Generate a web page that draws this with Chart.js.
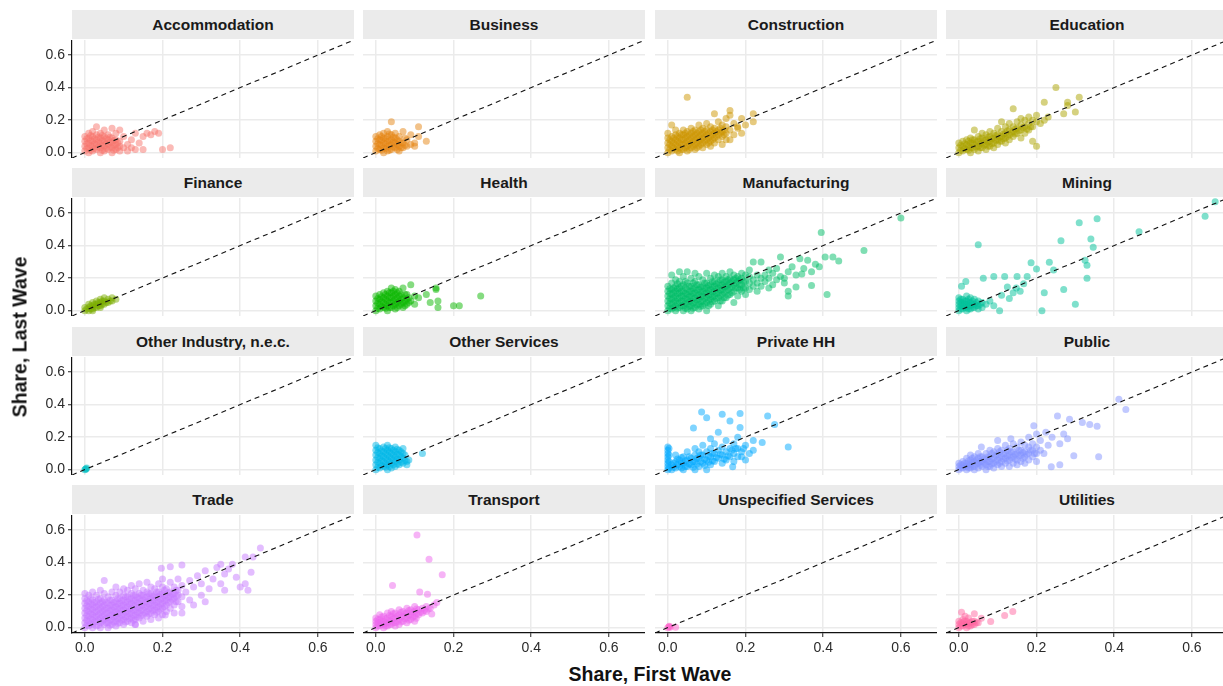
<!DOCTYPE html>
<html>
<head>
<meta charset="utf-8">
<script src="https://cdn.jsdelivr.net/npm/chart.js@4.4.1/dist/chart.umd.min.js"></script>
<style>
  body { margin: 0; background: #fff; width: 1223px; height: 686px; overflow: hidden; position: relative; font-family: "Liberation Sans", Arial, sans-serif; }
  canvas { position: absolute; }
  .strip { position: absolute; background: #ebebeb; color: #1a1a1a; font-weight: bold; font-size: 15.5px; text-align: center; }
  .title { position: absolute; font-weight: bold; font-size: 19.5px; color: #111; white-space: nowrap; }
</style>
</head>
<body>
<script>
// facet names and colours (ggplot hue palette)
const industries = ["Accommodation", "Business", "Construction", "Education",
  "Finance", "Health", "Manufacturing", "Mining",
  "Other Industry, n.e.c.", "Other Services", "Private HH", "Public",
  "Trade", "Transport", "Unspecified Services", "Utilities"];
const colors = ["#F8766D", "#E68613", "#CD9600", "#ABA300", "#7CAE00", "#0CB702", "#00BE67", "#00C19A",
  "#00BFC4", "#00B8E7", "#00A9FF", "#8494FF", "#C77CFF", "#ED68ED", "#FF61CC", "#FF68A1"];
const tickValues = [0, 0.2, 0.4, 0.6];
const tickLabels = ["0.0", "0.2", "0.4", "0.6"];
const axisRange = [-0.033, 0.693];

// [share first wave, share last wave]
const accommodation = [[0,0.01],[0,0.04],[0,0.07],[0,0.10],[0.01,0],[0.01,0.03],[0.01,0.06],[0.01,0.09],[0.01,0.12],
  [0.02,0.01],[0.02,0.04],[0.02,0.07],[0.02,0.10],[0.02,0.13],[0.03,0.02],[0.03,0.05],[0.03,0.08],[0.03,0.11],[0.03,0.16],
  [0.04,0],[0.04,0.03],[0.04,0.06],[0.04,0.09],[0.04,0.12],[0.05,0.01],[0.05,0.04],[0.05,0.07],[0.05,0.10],[0.05,0.14],
  [0.06,0.02],[0.06,0.05],[0.06,0.08],[0.06,0.11],[0.07,0],[0.07,0.03],[0.07,0.06],[0.07,0.09],[0.07,0.15],[0.08,0.02],
  [0.08,0.05],[0.08,0.08],[0.08,0.12],[0.09,0.01],[0.09,0.04],[0.09,0.07],[0.09,0.14],[0.10,0.03],[0.10,0.10],[0.11,0.05],
  [0.11,0.01],[0.12,0.08],[0.12,0.03],[0.13,0.12],[0.14,0.06],[0.15,0.02],[0.15,0.10],[0.16,0.12],[0.17,0.11],[0.18,0.13],
  [0.19,0.12],[0.20,0.02],[0.22,0.03],[0.13,0.02],
  [0.005,0.025],[0.005,0.055],[0.005,0.085],[0.015,0.015],[0.015,0.045],[0.015,0.075],[0.015,0.105],[0.025,0.025],[0.025,0.055],
  [0.025,0.085],[0.035,0.035],[0.035,0.065],[0.035,0.095],[0.045,0.015],[0.045,0.045],[0.045,0.075],[0.045,0.105],[0.055,0.025],
  [0.055,0.055],[0.055,0.085],[0.065,0.035],[0.065,0.065],[0.065,0.095],[0.075,0.015],[0.075,0.045],[0.075,0.075],[0.085,0.03],
  [0.085,0.06]];
const business = [[0,0.01],[0,0.04],[0,0.07],[0,0.10],[0.01,0.02],[0.01,0.05],[0.01,0.08],[0.01,0.11],[0.02,0],[0.02,0.03],
  [0.02,0.06],[0.02,0.09],[0.02,0.12],[0.03,0.01],[0.03,0.04],[0.03,0.07],[0.03,0.10],[0.03,0.13],[0.04,0.02],[0.04,0.05],
  [0.04,0.08],[0.04,0.11],[0.04,0.19],[0.05,0.03],[0.05,0.06],[0.05,0.09],[0.05,0.12],[0.06,0.01],[0.06,0.04],[0.06,0.07],
  [0.06,0.10],[0.07,0.03],[0.07,0.06],[0.07,0.13],[0.08,0.04],[0.08,0.08],[0.09,0.05],[0.10,0.04],[0.11,0.10],[0.11,0.16],
  [0.13,0.07],[0.09,0.11],[0.10,0.06],
  [0.005,0.025],[0.005,0.055],[0.005,0.085],[0.015,0.015],[0.015,0.045],[0.015,0.075],[0.015,0.10],[0.025,0.025],[0.025,0.055],
  [0.025,0.085],[0.035,0.015],[0.035,0.045],[0.035,0.075],[0.035,0.115],[0.045,0.035],[0.045,0.065],[0.045,0.095],[0.055,0.02],
  [0.055,0.05],[0.055,0.08],[0.065,0.03],[0.065,0.06],[0.075,0.045],[0.075,0.09]];
const construction = [[0,0],[0,0.03],[0,0.06],[0,0.09],[0,0.12],[0.01,0.01],[0.01,0.04],[0.01,0.07],[0.01,0.10],[0.01,0.17],
  [0.02,0.02],[0.02,0.05],[0.02,0.08],[0.02,0.11],[0.02,0.14],[0.03,0],[0.03,0.03],[0.03,0.06],[0.03,0.09],[0.03,0.12],
  [0.04,0.02],[0.04,0.05],[0.04,0.08],[0.04,0.11],[0.04,0.14],[0.05,0.01],[0.05,0.04],[0.05,0.07],[0.05,0.10],[0.05,0.13],
  [0.05,0.34],[0.06,0.03],[0.06,0.06],[0.06,0.09],[0.06,0.12],[0.06,0.15],[0.07,0.02],[0.07,0.05],[0.07,0.08],[0.07,0.11],
  [0.07,0.14],[0.08,0.04],[0.08,0.07],[0.08,0.10],[0.08,0.13],[0.08,0.17],[0.09,0.03],[0.09,0.06],[0.09,0.09],[0.09,0.12],
  [0.09,0.15],[0.10,0.05],[0.10,0.08],[0.10,0.11],[0.10,0.14],[0.10,0.18],[0.11,0.04],[0.11,0.07],[0.11,0.10],[0.11,0.13],
  [0.11,0.16],[0.12,0.06],[0.12,0.09],[0.12,0.12],[0.12,0.15],[0.12,0.24],[0.13,0.08],[0.13,0.11],[0.13,0.14],[0.13,0.19],
  [0.14,0.05],[0.14,0.10],[0.14,0.13],[0.14,0.17],[0.15,0.08],[0.15,0.12],[0.15,0.16],[0.15,0.21],[0.16,0.26],[0.16,0.23],
  [0.16,0.08],[0.16,0.14],[0.17,0.11],[0.17,0.18],[0.18,0.15],[0.18,0.16],[0.19,0.21],[0.19,0.12],[0.20,0.17],[0.22,0.24],
  [0.22,0.19],
  [0.005,0.02],[0.005,0.05],[0.005,0.08],[0.015,0.03],[0.015,0.06],[0.015,0.09],[0.025,0.01],[0.025,0.04],[0.025,0.07],[0.025,0.10],
  [0.035,0.02],[0.035,0.05],[0.035,0.08],[0.035,0.11],[0.045,0.03],[0.045,0.06],[0.045,0.09],[0.045,0.12],[0.055,0.02],[0.055,0.05],
  [0.055,0.08],[0.055,0.11],[0.065,0.04],[0.065,0.07],[0.065,0.10],[0.065,0.13],[0.075,0.03],[0.075,0.06],[0.075,0.09],[0.075,0.12],
  [0.085,0.05],[0.085,0.08],[0.085,0.11],[0.085,0.14],[0.095,0.07],[0.095,0.10],[0.095,0.13],[0.105,0.06],[0.105,0.09],[0.105,0.12],
  [0.115,0.08],[0.115,0.11],[0.115,0.14],[0.125,0.10],[0.125,0.13],[0.135,0.12],[0.135,0.15],[0.145,0.11],[0.145,0.14]];
const education = [[0,0],[0,0.03],[0,0.06],[0.01,0.01],[0.01,0.04],[0.01,0.07],[0.02,0.02],[0.02,0.05],[0.02,0.08],[0.03,0],
  [0.03,0.03],[0.03,0.06],[0.03,0.09],[0.04,0.02],[0.04,0.05],[0.04,0.08],[0.04,0.14],[0.05,0.01],[0.05,0.04],[0.05,0.07],
  [0.05,0.10],[0.06,0.03],[0.06,0.06],[0.06,0.09],[0.06,0.12],[0.07,0.02],[0.07,0.05],[0.07,0.08],[0.07,0.11],[0.08,0.04],
  [0.08,0.07],[0.08,0.10],[0.08,0.13],[0.09,0.03],[0.09,0.06],[0.09,0.09],[0.09,0.12],[0.10,0.05],[0.10,0.08],[0.10,0.11],
  [0.10,0.15],[0.11,0.07],[0.11,0.10],[0.11,0.13],[0.11,0.19],[0.12,0.06],[0.12,0.09],[0.12,0.12],[0.12,0.16],[0.13,0.08],
  [0.13,0.11],[0.13,0.14],[0.13,0.18],[0.14,0.10],[0.14,0.13],[0.14,0.16],[0.14,0.27],[0.15,0.12],[0.15,0.15],[0.15,0.19],
  [0.16,0.09],[0.16,0.14],[0.16,0.17],[0.16,0.21],[0.17,0.12],[0.17,0.16],[0.17,0.20],[0.18,0.14],[0.18,0.18],[0.18,0.22],
  [0.19,0.07],[0.19,0.16],[0.19,0.20],[0.20,0.04],[0.20,0.19],[0.20,0.23],[0.21,0.18],[0.22,0.31],[0.22,0.20],[0.23,0.22],
  [0.25,0.40],[0.27,0.24],[0.28,0.29],[0.28,0.31],[0.30,0.25],[0.31,0.34],
  [0.005,0.015],[0.005,0.045],[0.015,0.025],[0.015,0.055],[0.025,0.015],[0.025,0.04],[0.025,0.07],[0.035,0.03],[0.035,0.06],
  [0.035,0.08],[0.045,0.035],[0.045,0.065],[0.055,0.03],[0.055,0.055],[0.055,0.085],[0.065,0.045],[0.065,0.075],[0.075,0.04],
  [0.075,0.065],[0.075,0.095],[0.085,0.055],[0.085,0.085],[0.095,0.075],[0.095,0.105],[0.105,0.07],[0.105,0.095],[0.115,0.085],
  [0.115,0.115],[0.125,0.10],[0.125,0.135],[0.135,0.12],[0.145,0.115],[0.145,0.145],[0.155,0.135],[0.165,0.155],[0.175,0.145],
  [0.185,0.16]];
const finance = [[0,0],[0,0.02],[0.01,0],[0.01,0.02],[0.01,0.04],[0.02,0.01],[0.02,0.03],[0.02,0.05],[0.03,0.02],[0.03,0.04],
  [0.03,0.06],[0.04,0.03],[0.04,0.05],[0.04,0.07],[0.05,0.04],[0.05,0.06],[0.05,0.08],[0.06,0.05],[0.06,0.07],[0.07,0.06],
  [0.07,0.08],[0.08,0.07],[0.02,0],[0.04,0.02],
  [0.005,0.01],[0.015,0.01],[0.015,0.03],[0.025,0.02],[0.025,0.04],[0.035,0.03],[0.035,0.05],[0.045,0.04],[0.045,0.06],
  [0.055,0.05],[0.065,0.06]];
const health = [[0,0],[0,0.03],[0,0.06],[0,0.09],[0.01,0.01],[0.01,0.04],[0.01,0.07],[0.01,0.10],[0.02,0.02],[0.02,0.05],
  [0.02,0.08],[0.02,0.11],[0.03,0],[0.03,0.03],[0.03,0.06],[0.03,0.09],[0.03,0.12],[0.04,0.02],[0.04,0.05],[0.04,0.08],
  [0.04,0.11],[0.04,0.14],[0.05,0.01],[0.05,0.04],[0.05,0.07],[0.05,0.10],[0.05,0.13],[0.06,0.03],[0.06,0.06],[0.06,0.09],
  [0.06,0.12],[0.07,0.02],[0.07,0.05],[0.07,0.08],[0.07,0.14],[0.08,0.04],[0.08,0.07],[0.08,0.10],[0.09,0.06],[0.09,0.16],
  [0.10,0.09],[0.10,0.04],[0.11,0.08],[0.13,0.10],[0.14,0.05],[0.155,0.14],[0.155,0.13],[0.16,0.06],[0.16,0.02],[0.20,0.03],
  [0.215,0.03],[0.27,0.09],
  [0.005,0.015],[0.005,0.045],[0.005,0.075],[0.015,0.025],[0.015,0.055],[0.015,0.085],[0.025,0.015],[0.025,0.04],[0.025,0.07],
  [0.025,0.10],[0.035,0.02],[0.035,0.05],[0.035,0.08],[0.035,0.11],[0.045,0.03],[0.045,0.06],[0.045,0.09],[0.045,0.12],
  [0.055,0.02],[0.055,0.05],[0.055,0.08],[0.055,0.11],[0.065,0.04],[0.065,0.07],[0.065,0.10],[0.075,0.03],[0.075,0.06],
  [0.075,0.10],[0.085,0.05],[0.085,0.08]];
const manufacturing = [[0,0],[0,0.03],[0,0.06],[0,0.09],[0,0.12],[0,0.15],[0.01,0.01],[0.01,0.04],[0.01,0.07],[0.01,0.10],
  [0.01,0.13],[0.01,0.17],[0.01,0.22],[0.02,0],[0.02,0.03],[0.02,0.06],[0.02,0.09],[0.02,0.12],[0.02,0.15],[0.02,0.19],
  [0.03,0.02],[0.03,0.05],[0.03,0.08],[0.03,0.11],[0.03,0.14],[0.03,0.18],[0.03,0.24],[0.04,0],[0.04,0.03],[0.04,0.06],
  [0.04,0.09],[0.04,0.12],[0.04,0.16],[0.04,0.21],[0.05,0.01],[0.05,0.04],[0.05,0.07],[0.05,0.10],[0.05,0.13],[0.05,0.17],
  [0.05,0.24],[0.06,0],[0.06,0.03],[0.06,0.06],[0.06,0.09],[0.06,0.12],[0.06,0.15],[0.06,0.20],[0.07,0.02],[0.07,0.05],
  [0.07,0.08],[0.07,0.11],[0.07,0.14],[0.07,0.18],[0.07,0.23],[0.08,0.01],[0.08,0.04],[0.08,0.07],[0.08,0.10],[0.08,0.13],
  [0.08,0.16],[0.08,0.21],[0.09,0.03],[0.09,0.06],[0.09,0.09],[0.09,0.12],[0.09,0.15],[0.09,0.19],[0.10,0],[0.10,0.05],
  [0.10,0.08],[0.10,0.11],[0.10,0.14],[0.10,0.17],[0.10,0.23],[0.11,0.04],[0.11,0.07],[0.11,0.10],[0.11,0.13],[0.11,0.16],
  [0.11,0.20],[0.12,0.06],[0.12,0.09],[0.12,0.12],[0.12,0.15],[0.12,0.18],[0.12,0.22],[0.13,0.03],[0.13,0.08],[0.13,0.11],
  [0.13,0.14],[0.13,0.17],[0.13,0.21],[0.14,0.06],[0.14,0.10],[0.14,0.13],[0.14,0.16],[0.14,0.19],[0.14,0.23],[0.15,0.08],
  [0.15,0.12],[0.15,0.15],[0.15,0.18],[0.15,0.21],[0.16,0.10],[0.16,0.14],[0.16,0.17],[0.16,0.20],[0.16,0.24],[0.17,0.05],
  [0.17,0.12],[0.17,0.16],[0.17,0.19],[0.17,0.22],[0.18,0.09],[0.18,0.14],[0.18,0.18],[0.18,0.21],[0.19,0.12],[0.19,0.16],
  [0.19,0.20],[0.19,0.23],[0.20,0.10],[0.20,0.14],[0.20,0.18],[0.20,0.22],[0.21,0.13],[0.21,0.17],[0.21,0.21],[0.21,0.25],
  [0.22,0.15],[0.22,0.19],[0.22,0.30],[0.23,0.12],[0.23,0.17],[0.23,0.22],[0.24,0.15],[0.24,0.20],[0.24,0.30],[0.25,0.18],
  [0.25,0.22],[0.26,0.14],[0.26,0.20],[0.26,0.25],[0.27,0.16],[0.27,0.23],[0.28,0.19],[0.28,0.26],[0.29,0.21],[0.29,0.33],
  [0.30,0.20],[0.30,0.17],[0.31,0.12],[0.31,0.09],[0.31,0.24],[0.32,0.27],[0.33,0.145],[0.33,0.22],[0.34,0.32],[0.345,0.225],
  [0.35,0.26],[0.36,0.31],[0.37,0.155],[0.37,0.24],[0.38,0.285],[0.39,0.27],[0.395,0.48],[0.405,0.33],[0.41,0.10],[0.425,0.33],
  [0.44,0.305],[0.505,0.37],[0.60,0.57],
  [0.005,0.015],[0.005,0.045],[0.005,0.075],[0.005,0.105],[0.005,0.135],[0.015,0.02],[0.015,0.05],[0.015,0.08],[0.015,0.11],
  [0.015,0.14],[0.025,0.015],[0.025,0.045],[0.025,0.075],[0.025,0.105],[0.025,0.135],[0.025,0.165],[0.035,0.03],[0.035,0.06],
  [0.035,0.09],[0.035,0.12],[0.035,0.15],[0.045,0.015],[0.045,0.045],[0.045,0.075],[0.045,0.105],[0.045,0.14],[0.045,0.18],
  [0.055,0.025],[0.055,0.055],[0.055,0.085],[0.055,0.115],[0.055,0.15],[0.065,0.015],[0.065,0.045],[0.065,0.075],[0.065,0.105],
  [0.065,0.135],[0.065,0.17],[0.075,0.035],[0.075,0.065],[0.075,0.095],[0.075,0.125],[0.075,0.16],[0.085,0.025],[0.085,0.055],
  [0.085,0.085],[0.085,0.115],[0.085,0.145],[0.095,0.04],[0.095,0.075],[0.095,0.105],[0.095,0.135],[0.095,0.17],[0.105,0.03],
  [0.105,0.065],[0.105,0.095],[0.105,0.125],[0.105,0.155],[0.115,0.055],[0.115,0.085],[0.115,0.115],[0.115,0.145],[0.115,0.18],
  [0.125,0.075],[0.125,0.105],[0.125,0.135],[0.125,0.165],[0.135,0.06],[0.135,0.095],[0.135,0.125],[0.135,0.155],[0.135,0.19],
  [0.145,0.08],[0.145,0.115],[0.145,0.145],[0.145,0.175],[0.155,0.095],[0.155,0.13],[0.155,0.16],[0.155,0.19],[0.165,0.11],
  [0.165,0.145],[0.165,0.18],[0.175,0.14],[0.175,0.17],[0.175,0.20],[0.185,0.13],[0.185,0.16],[0.185,0.19],[0.195,0.14],
  [0.195,0.18]];
const mining = [[0,0],[0,0.02],[0,0.04],[0,0.06],[0,0.08],[0.01,0.01],[0.01,0.03],[0.01,0.05],[0.01,0.07],[0.02,0],[0.02,0.02],
  [0.02,0.04],[0.02,0.06],[0.02,0.09],[0.03,0.01],[0.03,0.03],[0.03,0.05],[0.03,0.08],[0.04,0.02],[0.04,0.04],[0.04,0.07],
  [0.05,0.01],[0.05,0.03],[0.05,0.06],[0.06,0.02],[0.06,0.05],[0.07,0.04],[0.08,0.06],[0.09,0.03],[0.007,0.15],[0.018,0.18],
  [0.05,0.405],[0.063,0.20],[0.09,0.21],[0.105,0],[0.11,0.095],[0.118,0.21],[0.125,0.145],[0.13,0.075],[0.14,0.11],[0.148,0.14],
  [0.15,0.21],[0.158,0.12],[0.167,0.166],[0.176,0.21],[0.186,0.295],[0.20,0.256],[0.214,0],[0.22,0.11],[0.233,0.298],[0.244,0.25],
  [0.263,0.43],[0.27,0.13],[0.30,0.04],[0.31,0.54],[0.325,0.31],[0.33,0.28],[0.33,0.20],[0.34,0.44],[0.346,0.39],[0.356,0.565],
  [0.464,0.485],[0.634,0.58],[0.66,0.67],
  [0.005,0.01],[0.005,0.03],[0.005,0.05],[0.005,0.07],[0.015,0.02],[0.015,0.04],[0.015,0.06],[0.025,0.01],[0.025,0.03],
  [0.025,0.05],[0.025,0.07],[0.035,0.02],[0.035,0.04],[0.035,0.06],[0.045,0.03],[0.045,0.05],[0.055,0.04]];
const otherIndustry = [[0,0],[0.003,0.005],[0.005,0.01],[0.002,0.003]];
const otherServices = [[0,0],[0,0.03],[0,0.06],[0,0.09],[0,0.12],[0,0.15],[0.01,0.01],[0.01,0.04],[0.01,0.07],[0.01,0.10],
  [0.01,0.13],[0.02,0.02],[0.02,0.05],[0.02,0.08],[0.02,0.11],[0.02,0.14],[0.03,0],[0.03,0.03],[0.03,0.06],[0.03,0.09],
  [0.03,0.12],[0.03,0.15],[0.04,0.01],[0.04,0.04],[0.04,0.07],[0.04,0.10],[0.04,0.13],[0.05,0.02],[0.05,0.05],[0.05,0.08],
  [0.05,0.11],[0.05,0.14],[0.06,0.03],[0.06,0.06],[0.06,0.09],[0.06,0.12],[0.07,0.04],[0.07,0.07],[0.07,0.10],[0.07,0.13],
  [0.08,0.05],[0.08,0.03],[0.085,0.06],[0.12,0.10],
  [0.005,0.015],[0.005,0.045],[0.005,0.075],[0.005,0.105],[0.005,0.135],[0.015,0.025],[0.015,0.055],[0.015,0.085],[0.015,0.115],
  [0.025,0.015],[0.025,0.04],[0.025,0.07],[0.025,0.10],[0.025,0.13],[0.035,0.02],[0.035,0.05],[0.035,0.08],[0.035,0.11],
  [0.035,0.135],[0.045,0.03],[0.045,0.06],[0.045,0.09],[0.045,0.12],[0.055,0.035],[0.055,0.065],[0.055,0.095],[0.055,0.125],
  [0.065,0.045],[0.065,0.08],[0.065,0.11],[0.075,0.055],[0.075,0.09]];
const privateHH = [[0,0],[0,0.02],[0,0.04],[0,0.06],[0,0.08],[0,0.10],[0,0.12],[0,0.14],[0.003,0.01],[0.003,0.05],[0.003,0.09],
  [0.003,0.13],[0.01,0],[0.01,0.03],[0.02,0.01],[0.02,0.05],[0.02,0.09],[0.03,0.02],[0.03,0.06],[0.04,0],[0.04,0.04],[0.04,0.08],
  [0.05,0.02],[0.05,0.06],[0.05,0.11],[0.06,0.03],[0.06,0.07],[0.066,0.256],[0.07,0],[0.07,0.05],[0.07,0.09],[0.07,0.13],
  [0.08,0.02],[0.08,0.07],[0.08,0.11],[0.087,0.354],[0.09,0.04],[0.09,0.09],[0.09,0.15],[0.10,0],[0.10,0.06],[0.10,0.11],
  [0.10,0.32],[0.11,0.03],[0.11,0.08],[0.11,0.13],[0.11,0.19],[0.12,0.05],[0.12,0.10],[0.12,0.16],[0.13,0.07],[0.13,0.12],
  [0.13,0.23],[0.14,0.04],[0.14,0.09],[0.14,0.14],[0.14,0.34],[0.15,0.06],[0.15,0.11],[0.15,0.18],[0.16,0.08],[0.16,0.13],
  [0.16,0.30],[0.167,0.017],[0.17,0.05],[0.17,0.10],[0.17,0.16],[0.18,0.08],[0.18,0.13],[0.18,0.20],[0.186,0.26],[0.186,0.345],
  [0.19,0.08],[0.19,0.11],[0.20,0.06],[0.20,0.15],[0.21,0.10],[0.22,0.12],[0.22,0.18],[0.243,0.167],[0.257,0.33],[0.275,0.277],
  [0.31,0.14],
  [0.015,0.015],[0.015,0.04],[0.025,0.03],[0.025,0.065],[0.035,0.01],[0.035,0.04],[0.035,0.075],[0.045,0.02],[0.045,0.055],
  [0.055,0.035],[0.055,0.08],[0.065,0.015],[0.065,0.05],[0.075,0.035],[0.075,0.07],[0.085,0.05],[0.085,0.09],[0.095,0.025],
  [0.095,0.065],[0.105,0.045],[0.105,0.085],[0.115,0.055],[0.115,0.10],[0.125,0.075],[0.135,0.095],[0.145,0.065],[0.155,0.085],
  [0.165,0.12],[0.175,0.13],[0.195,0.13]];
const publicSector = [[0,0],[0,0.02],[0,0.04],[0.01,0.01],[0.01,0.03],[0.01,0.05],[0.02,0],[0.02,0.02],[0.02,0.04],[0.02,0.07],
  [0.03,0.01],[0.03,0.03],[0.03,0.06],[0.03,0.09],[0.04,0],[0.04,0.02],[0.04,0.05],[0.04,0.08],[0.05,0.01],[0.05,0.04],
  [0.05,0.07],[0.05,0.10],[0.06,0.02],[0.06,0.05],[0.06,0.08],[0.058,0.14],[0.07,0],[0.07,0.03],[0.07,0.06],[0.07,0.10],
  [0.08,0.02],[0.08,0.05],[0.08,0.08],[0.08,0.12],[0.09,0.01],[0.09,0.04],[0.09,0.07],[0.09,0.11],[0.10,0.03],[0.10,0.06],
  [0.10,0.09],[0.10,0.13],[0.10,0.18],[0.11,0.02],[0.11,0.05],[0.11,0.08],[0.11,0.12],[0.12,0.04],[0.12,0.07],[0.12,0.10],
  [0.12,0.15],[0.13,0.02],[0.13,0.06],[0.13,0.09],[0.13,0.13],[0.134,0.19],[0.14,0.04],[0.14,0.08],[0.14,0.11],[0.14,0.16],
  [0.15,0.03],[0.15,0.06],[0.15,0.10],[0.15,0.14],[0.16,0.05],[0.16,0.09],[0.16,0.12],[0.16,0.17],[0.17,0.04],[0.17,0.08],
  [0.17,0.11],[0.17,0.15],[0.18,0.06],[0.18,0.10],[0.18,0.14],[0.18,0.20],[0.19,0.08],[0.19,0.12],[0.19,0.16],[0.193,0.27],
  [0.20,0.05],[0.20,0.10],[0.20,0.14],[0.20,0.22],[0.21,0.12],[0.21,0.18],[0.219,0.10],[0.224,0.23],[0.23,0.15],[0.238,0.017],
  [0.24,0.20],[0.254,0.33],[0.26,0.03],[0.26,0.16],[0.27,0.22],[0.28,0.19],[0.285,0.31],[0.296,0.085],[0.318,0.29],[0.337,0.277],
  [0.356,0.267],[0.36,0.08],[0.412,0.433],[0.43,0.37],
  [0.005,0.01],[0.005,0.03],[0.015,0.02],[0.015,0.04],[0.025,0.01],[0.025,0.03],[0.025,0.055],[0.035,0.02],[0.035,0.045],
  [0.035,0.07],[0.045,0.035],[0.045,0.06],[0.055,0.025],[0.055,0.05],[0.055,0.08],[0.065,0.04],[0.065,0.065],[0.075,0.02],
  [0.075,0.05],[0.075,0.08],[0.085,0.035],[0.085,0.065],[0.085,0.10],[0.095,0.05],[0.095,0.09],[0.105,0.04],[0.105,0.075],
  [0.105,0.11],[0.115,0.065],[0.115,0.10],[0.125,0.055],[0.125,0.085],[0.125,0.12],[0.135,0.075],[0.135,0.11],[0.145,0.065],
  [0.145,0.095],[0.155,0.085],[0.155,0.12],[0.165,0.07],[0.165,0.105],[0.175,0.095],[0.185,0.12],[0.195,0.10]];
const trade = [[0,0],[0,0.03],[0,0.06],[0,0.09],[0,0.12],[0,0.15],[0,0.18],[0,0.21],[0.01,0.01],[0.01,0.04],[0.01,0.07],
  [0.01,0.10],[0.01,0.13],[0.01,0.16],[0.01,0.20],[0.02,0],[0.02,0.02],[0.02,0.05],[0.02,0.08],[0.02,0.11],[0.02,0.14],
  [0.02,0.17],[0.02,0.22],[0.03,0.01],[0.03,0.04],[0.03,0.07],[0.03,0.10],[0.03,0.13],[0.03,0.16],[0.03,0.20],[0.04,0],
  [0.04,0.03],[0.04,0.06],[0.04,0.09],[0.04,0.12],[0.04,0.15],[0.04,0.18],[0.04,0.23],[0.05,0.02],[0.05,0.05],[0.05,0.08],
  [0.05,0.11],[0.05,0.14],[0.05,0.17],[0.05,0.21],[0.05,0.29],[0.06,0],[0.06,0.03],[0.06,0.06],[0.06,0.09],[0.06,0.12],
  [0.06,0.15],[0.06,0.19],[0.07,0.02],[0.07,0.05],[0.07,0.08],[0.07,0.11],[0.07,0.14],[0.07,0.17],[0.07,0.22],[0.08,0.01],
  [0.08,0.04],[0.08,0.07],[0.08,0.10],[0.08,0.13],[0.08,0.16],[0.08,0.20],[0.08,0.25],[0.09,0.03],[0.09,0.06],[0.09,0.09],
  [0.09,0.12],[0.09,0.15],[0.09,0.18],[0.09,0.22],[0.10,0.02],[0.10,0.05],[0.10,0.08],[0.10,0.11],[0.10,0.14],[0.10,0.17],
  [0.10,0.20],[0.10,0.24],[0.11,0.04],[0.11,0.07],[0.11,0.10],[0.11,0.13],[0.11,0.16],[0.11,0.19],[0.11,0.23],[0.12,0.03],
  [0.12,0.06],[0.12,0.09],[0.12,0.12],[0.12,0.15],[0.12,0.18],[0.12,0.21],[0.12,0.26],[0.13,0.02],[0.13,0.05],[0.13,0.08],
  [0.13,0.11],[0.13,0.14],[0.13,0.17],[0.13,0.20],[0.13,0.24],[0.14,0.06],[0.14,0.09],[0.14,0.12],[0.14,0.15],[0.14,0.18],
  [0.14,0.21],[0.14,0.27],[0.15,0.04],[0.15,0.08],[0.15,0.11],[0.15,0.14],[0.15,0.17],[0.15,0.20],[0.15,0.23],[0.16,0.07],
  [0.16,0.10],[0.16,0.13],[0.16,0.16],[0.16,0.19],[0.16,0.22],[0.16,0.28],[0.17,0.05],[0.17,0.09],[0.17,0.12],[0.17,0.15],
  [0.17,0.18],[0.17,0.21],[0.17,0.25],[0.18,0.08],[0.18,0.11],[0.18,0.14],[0.18,0.17],[0.18,0.20],[0.18,0.24],[0.19,0.06],
  [0.19,0.10],[0.19,0.13],[0.19,0.16],[0.19,0.19],[0.19,0.22],[0.19,0.27],[0.20,0.08],[0.20,0.12],[0.20,0.15],[0.20,0.18],
  [0.20,0.21],[0.20,0.25],[0.20,0.30],[0.21,0.10],[0.21,0.14],[0.21,0.17],[0.21,0.20],[0.21,0.24],[0.22,0.12],[0.22,0.16],
  [0.22,0.19],[0.22,0.22],[0.22,0.28],[0.22,0.375],[0.23,0.09],[0.23,0.14],[0.23,0.18],[0.23,0.21],[0.23,0.25],[0.24,0.16],
  [0.24,0.20],[0.24,0.23],[0.24,0.30],[0.25,0.09],[0.25,0.13],[0.25,0.19],[0.25,0.26],[0.25,0.385],[0.26,0.22],[0.27,0.17],
  [0.27,0.29],[0.28,0.14],[0.28,0.25],[0.29,0.32],[0.30,0.20],[0.30,0.27],[0.31,0.16],[0.31,0.35],[0.32,0.24],[0.33,0.30],
  [0.34,0.37],[0.35,0.39],[0.35,0.27],[0.36,0.23],[0.36,0.33],[0.37,0.36],[0.38,0.39],[0.39,0.31],[0.40,0.25],[0.413,0.435],
  [0.413,0.27],[0.42,0.23],[0.428,0.34],[0.433,0.435],[0.452,0.49],[0.197,0.365],[0.13,0.02],[0.207,0.078],
  [0.005,0.015],[0.005,0.045],[0.005,0.075],[0.005,0.105],[0.005,0.135],[0.005,0.165],[0.015,0.025],[0.015,0.055],[0.015,0.085],
  [0.015,0.115],[0.015,0.145],[0.015,0.18],[0.025,0.035],[0.025,0.065],[0.025,0.095],[0.025,0.125],[0.025,0.155],[0.035,0.015],
  [0.035,0.05],[0.035,0.08],[0.035,0.11],[0.035,0.14],[0.035,0.175],[0.045,0.04],[0.045,0.07],[0.045,0.10],[0.045,0.13],
  [0.045,0.16],[0.055,0.03],[0.055,0.06],[0.055,0.09],[0.055,0.12],[0.055,0.155],[0.065,0.015],[0.065,0.045],[0.065,0.075],
  [0.065,0.105],[0.065,0.135],[0.065,0.17],[0.075,0.035],[0.075,0.065],[0.075,0.095],[0.075,0.125],[0.075,0.155],[0.085,0.025],
  [0.085,0.055],[0.085,0.085],[0.085,0.115],[0.085,0.145],[0.085,0.18],[0.095,0.045],[0.095,0.075],[0.095,0.105],[0.095,0.135],
  [0.095,0.165],[0.105,0.035],[0.105,0.065],[0.105,0.095],[0.105,0.125],[0.105,0.155],[0.105,0.19],[0.115,0.055],[0.115,0.085],
  [0.115,0.115],[0.115,0.145],[0.115,0.175],[0.125,0.045],[0.125,0.075],[0.125,0.105],[0.125,0.135],[0.125,0.165],[0.125,0.20],
  [0.135,0.065],[0.135,0.095],[0.135,0.125],[0.135,0.155],[0.135,0.185],[0.145,0.075],[0.145,0.105],[0.145,0.135],[0.145,0.165],
  [0.145,0.20],[0.155,0.09],[0.155,0.125],[0.155,0.155],[0.155,0.185],[0.165,0.085],[0.165,0.115],[0.165,0.145],[0.165,0.175],
  [0.165,0.21],[0.175,0.105],[0.175,0.135],[0.175,0.165],[0.175,0.195],[0.185,0.095],[0.185,0.125],[0.185,0.155],[0.185,0.185],
  [0.185,0.22],[0.195,0.115],[0.195,0.145],[0.195,0.175],[0.195,0.205],[0.205,0.13],[0.205,0.165],[0.205,0.195],[0.205,0.23],
  [0.215,0.155],[0.215,0.185],[0.215,0.215],[0.225,0.175],[0.225,0.205],[0.235,0.16],[0.235,0.195],[0.235,0.23]];
const transport = [[0,0],[0,0.02],[0,0.04],[0,0.06],[0.01,0.01],[0.01,0.03],[0.01,0.05],[0.01,0.08],[0.02,0],[0.02,0.02],
  [0.02,0.04],[0.02,0.07],[0.03,0.01],[0.03,0.03],[0.03,0.06],[0.03,0.09],[0.04,0.02],[0.04,0.04],[0.04,0.07],[0.04,0.10],
  [0.043,0.26],[0.05,0.01],[0.05,0.03],[0.05,0.06],[0.05,0.09],[0.06,0.02],[0.06,0.05],[0.06,0.08],[0.06,0.11],[0.07,0.04],
  [0.07,0.07],[0.07,0.10],[0.08,0.03],[0.08,0.06],[0.08,0.09],[0.08,0.12],[0.09,0.05],[0.09,0.08],[0.09,0.11],[0.10,0.04],
  [0.10,0.07],[0.10,0.10],[0.10,0.13],[0.104,0.057],[0.106,0.57],[0.11,0.08],[0.11,0.11],[0.113,0.22],[0.12,0.09],[0.12,0.12],
  [0.13,0.10],[0.13,0.13],[0.133,0.205],[0.137,0.42],[0.14,0.12],[0.144,0.084],[0.15,0.14],[0.157,0.155],[0.171,0.326],
  [0.005,0.01],[0.005,0.03],[0.005,0.05],[0.015,0.02],[0.015,0.04],[0.015,0.065],[0.025,0.01],[0.025,0.03],[0.025,0.055],
  [0.035,0.02],[0.035,0.045],[0.035,0.075],[0.045,0.03],[0.045,0.055],[0.045,0.085],[0.055,0.04],[0.055,0.07],[0.065,0.035],
  [0.065,0.065],[0.065,0.095],[0.075,0.055],[0.075,0.085],[0.085,0.045],[0.085,0.075],[0.085,0.105],[0.095,0.065],[0.095,0.095],
  [0.105,0.085],[0.105,0.115],[0.115,0.095],[0.125,0.105],[0.135,0.115]];
const unspecified = [[0,0],[0.003,0.005],[0.006,0.002],[0.004,0.009],[0.02,0.003]];
const utilities = [[0,0],[0,0.02],[0,0.04],[0.01,0.01],[0.01,0.03],[0.01,0.05],[0.02,0],[0.02,0.02],[0.02,0.04],[0.03,0.01],
  [0.03,0.03],[0.04,0.02],[0.04,0.04],[0.05,0.03],[0.007,0.095],[0.016,0.07],[0.04,0.085],[0.058,0.058],[0.082,0.037],
  [0.118,0.075],[0.139,0.10],[0.025,0.06],
  [0.005,0.01],[0.005,0.03],[0.015,0.02],[0.015,0.04],[0.025,0.01],[0.025,0.03],[0.035,0.02],[0.035,0.04],[0.045,0.03]];

const panels = [accommodation, business, construction, education, finance, health, manufacturing, mining,
  otherIndustry, otherServices, privateHH, publicSector, trade, transport, unspecified, utilities];

// layout
const colLeft = [72, 363, 655, 946];
const rowTop = [40, 198, 357, 515];
const panelW = 282, panelH = 118;
const yAxisW = 42, xAxisH = 26;
const tickFont = { family: "'Liberation Sans', Arial, sans-serif", size: 14 };

function addDiv(cls, text, css) {
  const d = document.createElement("div");
  d.className = cls;
  d.textContent = text;
  Object.assign(d.style, css);
  document.body.appendChild(d);
  return d;
}

// fixed axis size, and no extra padding for first/last tick labels
function fixSize(s, size, horizontal) {
  if (horizontal) s.height = size; else s.width = size;
  s.paddingTop = 0; s.paddingBottom = 0; s.paddingLeft = 0; s.paddingRight = 0;
}

panels.forEach((pts, i) => {
  const r = Math.floor(i / 4), c = i % 4;
  const showY = c === 0, showX = r === 3;

  addDiv("strip", industries[i], {
    left: colLeft[c] + "px", top: (rowTop[r] - 30) + "px",
    width: panelW + "px", height: "29px", lineHeight: "29px"
  });

  const canvas = document.createElement("canvas");
  const w = panelW + (showY ? yAxisW : 0);
  const h = panelH + (showX ? xAxisH : 0);
  canvas.width = w; canvas.height = h;
  canvas.style.left = (colLeft[c] - (showY ? yAxisW : 0)) + "px";
  canvas.style.top = rowTop[r] + "px";
  document.body.appendChild(canvas);

  const axis = (shown, fit) => ({
    type: "linear",
    min: axisRange[0], max: axisRange[1],
    afterBuildTicks: s => { s.ticks = tickValues.map(v => ({ value: v })); },
    afterFit: fit,
    ticks: {
      display: shown, font: tickFont, color: "#2b2b2b", padding: 3,
      autoSkip: false, maxRotation: 0,
      callback: (v, idx) => tickLabels[idx]
    },
    grid: { color: "#ebebeb", lineWidth: 1.5, drawTicks: shown, tickLength: 4, tickColor: "#222", tickWidth: 1 },
    border: { display: shown, color: "#111", width: 1.2 }
  });

  new Chart(canvas.getContext("2d"), {
    type: "scatter",
    data: {
      datasets: [
        {
          data: axisRange.map(v => ({ x: v, y: v })),
          showLine: true, borderColor: "#111", borderWidth: 1.1, borderDash: [5, 4],
          pointRadius: 0, order: 0
        },
        {
          data: pts.map(p => ({ x: p[0], y: p[1] })),
          backgroundColor: colors[i] + "80", borderWidth: 0, pointRadius: 3.5, order: 1
        }
      ]
    },
    options: {
      responsive: false, animation: false, events: [],
      layout: { padding: 0, autoPadding: false },
      plugins: { legend: { display: false }, tooltip: { enabled: false } },
      scales: {
        x: axis(showX, s => fixSize(s, showX ? xAxisH : 0, true)),
        y: axis(showY, s => fixSize(s, showY ? yAxisW : 0, false))
      }
    }
  });
});

addDiv("title", "Share, First Wave", { left: "650px", top: "663px", transform: "translateX(-50%)" });
addDiv("title", "Share, Last Wave", { left: "20px", top: "337px", transform: "translate(-50%, -50%) rotate(-90deg)" });
</script>
</body>
</html>
